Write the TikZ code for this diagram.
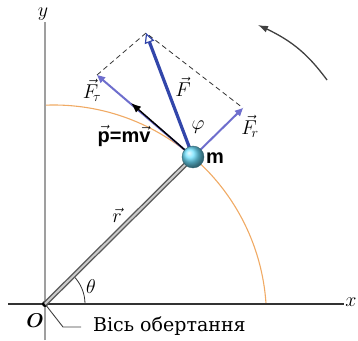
\RequirePackage{fix-cm}
\documentclass[tikz,border=0pt]{standalone}
\usepackage{amsmath}
\usepackage{fontspec}
\setmainfont{DejaVu Serif}
\newfontfamily\labelsans{Liberation Sans}
\usepackage{tikz}
\usetikzlibrary{
	arrows.meta,
	bending,
	calc
}
\definecolor{PathOrange}{RGB}{240,170,100}
\definecolor{ForceBlue}{RGB}{50,70,170}
\definecolor{CompBlue}{RGB}{110,110,205}
\definecolor{BallBlue}{RGB}{110,225,255}

\begin{document}
\begin{tikzpicture}[x=1pt, y=1pt,
	lbl/.style={inner sep=0pt, font=\fontsize{20}{24}\selectfont},
	force/.style={ForceBlue, line width=3.2pt, -{Triangle[open, length=10pt, width=10pt, line width=1.2pt]}},
	comp/.style={CompBlue, line width=2pt, -{Triangle[length=8pt, width=7pt]}},
	helper/.style={black!80, line width=0.8pt, dash pattern=on 5pt off 3.5pt}]
	\useasboundingbox (0,0) rectangle (358,340);
	
	% 轨迹 (圆弧)
	\draw[PathOrange, line width=1.1pt] ($(53.5,22)+(4:213)$) arc (4:92:213);
	
	% 坐标轴
	\draw[gray!75, line width=2.6pt] (45,0) -- (45,318);
	\draw[black!80, line width=1.2pt] (8,36) -- (344,36);
	\node[lbl] (ylab) at (43,326) {$y$};
	\node[lbl] (xlab) at (351,38) {$x$};
	
	% 原点与转轴
	\coordinate (O) at (45,36);
	\coordinate (lead) at (63,13);
	\fill (O) circle (3);
	\node[lbl] (Olab) at (35,19) {$\boldsymbol{O}$};
	\draw[black!75, line width=0.9pt] (O) -- (lead) -- ++(18,0);
	\node[inner sep=0pt, anchor=west, font=\fontsize{19}{22}\selectfont] (axis) at (93,14) {Вісь обертання};
	
	% 角 theta
	\draw[black!80, line width=0.8pt] ($(O)+(40,0)$) arc (0:45:40);
	\node[lbl] (theta) at (91,53) {$\theta$};
	
	% 杆 r
	\coordinate (m) at (193,183);
	\draw[black!65, double=gray!40, double distance=2pt, line width=1.4pt] (O) -- (m);
	\node[lbl] (rlab) at (117,125) {$\vec{r}$};
	
	% 力与动量
	\coordinate (Ftip) at (146,307);
	\coordinate (Frtip) at (243,232);
	\coordinate (Fttip) at (97,265);
	\coordinate (ptip) at (131,237);
	\draw[helper] (Fttip) -- (Ftip) -- (Frtip);
	\draw[comp] (m) -- (Frtip);
	\draw[comp] (m) -- (Fttip);
	\draw[black, line width=1.4pt, -{Latex[length=10pt, width=8pt]}] (m) -- (ptip);
	\draw[force] (m) -- (Ftip);
	\node[lbl] (Flab) at (183,253) {$\vec{F}$};
	\node[lbl] (Frlab) at (250,214) {$\vec{F}_{\!r}$};
	\node[lbl] (Ftlab) at (92,250) {$\vec{F}_{\!\tau}$};
	\node[lbl] (philab) at (198,213) {$\varphi$};
	\node[inner sep=0pt, font=\labelsans\bfseries\fontsize{20}{24}\selectfont] (plab) at (124,204) {$\vec{\text{p}}$=m$\vec{\text{v}}$};
	
	% 质点 m
	\shade[ball color=BallBlue] (m) circle (11);
	\draw[BallBlue!45!black, line width=0.4pt] (m) circle (11);
	\node[inner sep=0pt, anchor=west, font=\labelsans\bfseries\fontsize{20}{24}\selectfont] (mlab) at (206,182) {m};
	
	% 旋转方向
	\coordinate (rotA) at (327,260);
	\coordinate (rotB) at (258,315);
	\draw[black!75, line width=1.3pt, -{Latex[length=10pt, width=7pt]}] (rotA) to[bend right=15] (rotB);
\end{tikzpicture}
\end{document}
